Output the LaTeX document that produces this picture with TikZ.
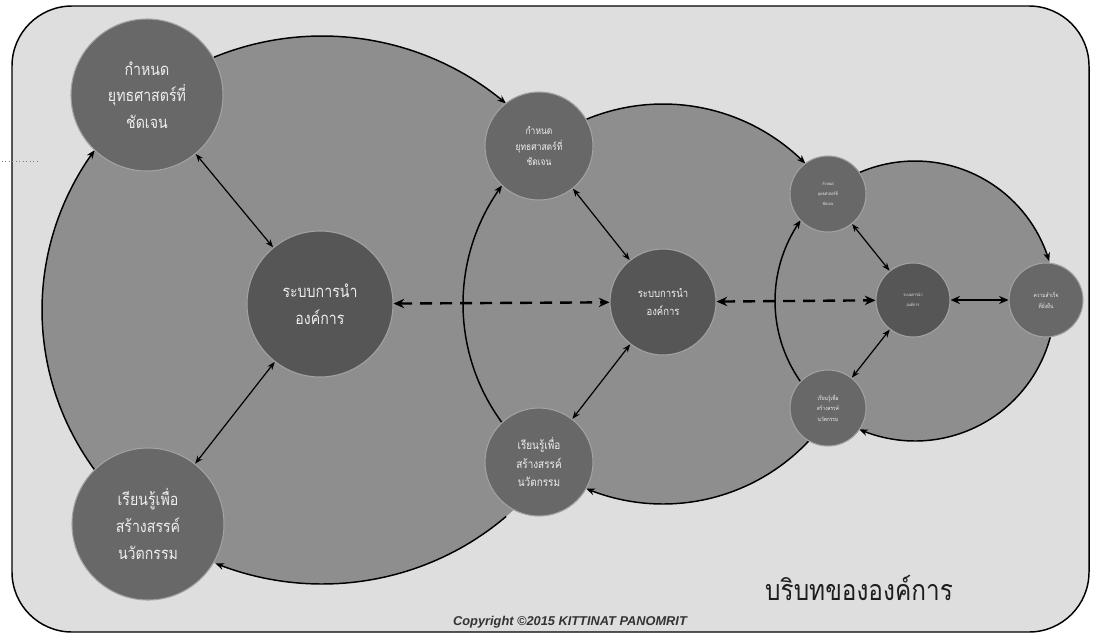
\documentclass[tikz,border=0pt]{standalone}
\usepackage{fontspec}
\setmainfont{Liberation Sans}
\newfontfamily\thai[Script=Thai, FakeStretch=0.85]{Loma}
\usetikzlibrary{arrows.meta}
\definecolor{paperC}{HTML}{DEDEDE}
\definecolor{blobC}{HTML}{8E8E8E}
\definecolor{discC}{HTML}{686868}
\definecolor{coreC}{HTML}{565656}
\definecolor{rimC}{HTML}{A2A2A2}
\definecolor{inkC}{HTML}{EEEEEE}
\definecolor{titleC}{HTML}{1E1E1E}

\begin{document}
\begin{tikzpicture}[x=0.75pt,y=-0.75pt,
  disc/.style={circle, fill=discC, draw=rimC, line width=0.8pt,
    minimum size=#1*1.5pt, inner sep=0pt, align=center, text=inkC},
  coredisc/.style={disc=#1, fill=coreC},
  bigtxt/.style={font=\thai\fontsize{12.5}{20}\selectfont},
  atxt/.style={font=\thai\fontsize{7.5}{11.6}\selectfont},
  btxt/.style={font=\thai\fontsize{8.8}{14}\selectfont},
  ctxt/.style={font=\thai\fontsize{8.4}{13.5}\selectfont},
  tinytxt/.style={font=\thai\fontsize{3.2}{7.5}\selectfont},
  smalltxt/.style={font=\thai\fontsize{4.3}{8.2}\selectfont},
  rimarc/.style={line width=1.1pt, -{Stealth[length=6.5pt,width=5pt]}},
  link/.style={line width=0.9pt, {Stealth[length=6pt,width=4.5pt]}-{Stealth[length=6pt,width=4.5pt]}},
  boldlink/.style={line width=1.8pt, {Stealth[length=7pt,width=6pt]}-{Stealth[length=7pt,width=6pt]}},
  dashlink/.style={line width=1.8pt, dash pattern=on 9pt off 6pt,
    {Stealth[length=8pt,width=7pt]}-{Stealth[length=8pt,width=7pt]}},
]
\useasboundingbox (0,0) rectangle (1094,636);
\fill[white] (0,0) rectangle (1094,636);

% frame
\draw[fill=paperC, line width=1.1pt, rounded corners=45pt] (12,6) rectangle (1089,632);
\draw[gray, dotted, line width=0.6pt] (2,161) -- (40,161);

% the three stage regions
\fill[blobC] (322,310) ellipse [x radius=280, y radius=274];
\fill[blobC] (663,304) circle [radius=200];
\fill[blobC] (915,301) circle [radius=140];

% cycle arcs along the region borders
\draw[rimarc] plot[domain=144:215.7, samples=50, variable=\t] ({322+280*cos(\t)},{310+274*sin(\t)});
\draw[rimarc] plot[domain=-112.7:-48.9, samples=50, variable=\t] ({322+280*cos(\t)},{310+274*sin(\t)});
\draw[rimarc] plot[domain=48.9:112.4, samples=50, variable=\t] ({322+280*cos(\t)},{310+274*sin(\t)});

\draw[rimarc] plot[domain=143.6:216.4, samples=50, variable=\t] ({663+200*cos(\t)},{304+200*sin(\t)});
\draw[rimarc] plot[domain=-112.6:-44.6, samples=50, variable=\t] ({663+200*cos(\t)},{304+200*sin(\t)});
\draw[rimarc] plot[domain=43.1:112.6, samples=50, variable=\t] ({663+200*cos(\t)},{304+200*sin(\t)});

\draw[rimarc] plot[domain=144.7:215.3, samples=50, variable=\t] ({915+140*cos(\t)},{301+140*sin(\t)});
\draw[rimarc] plot[domain=-113.5:-16.5, samples=50, variable=\t] ({915+140*cos(\t)},{301+140*sin(\t)});
\draw[rimarc] plot[domain=13.9:113.5, samples=50, variable=\t] ({915+140*cos(\t)},{301+140*sin(\t)});

% stage 1
\node[disc=76, bigtxt] (A1) at (147,95) {กำหนด\\ยุทธศาสตร์ที่\\ชัดเจน};
\node[disc=76, bigtxt] (B1) at (148,524) {เรียนรู้เพื่อ\\สร้างสรรค์\\นวัตกรรม};
\node[coredisc=73, bigtxt] (C1) at (320,304) {ระบบการนำ\\องค์การ};

% stage 2
\node[disc=54, atxt] (A2) at (539,146) {กำหนด\\ยุทธศาสตร์ที่\\ชัดเจน};
\node[disc=54, btxt] (B2) at (539,462) {เรียนรู้เพื่อ\\สร้างสรรค์\\นวัตกรรม};
\node[coredisc=53, ctxt] (C2) at (663,302) {ระบบการนำ\\องค์การ};

% stage 3
\node[disc=38, tinytxt] (A3) at (828,194) {กำหนด\\ยุทธศาสตร์ที่\\ชัดเจน};
\node[disc=38, smalltxt] (B3) at (828,408) {เรียนรู้เพื่อ\\สร้างสรรค์\\นวัตกรรม};
\node[coredisc=37, tinytxt] (C3) at (913,300) {ระบบการนำ\\องค์การ};
\node[disc=37, smalltxt] (D3) at (1046,300) {ความสำเร็จ\\ที่ยั่งยืน};

% links inside each stage
\draw[link] (A1) -- (C1);
\draw[link] (B1) -- (C1);
\draw[link] (A2) -- (C2);
\draw[link] (B2) -- (C2);
\draw[link] (A3) -- (C3);
\draw[link] (B3) -- (C3);
\draw[boldlink] (C3) -- (D3);

% links between stages
\draw[dashlink] (C1) -- (C2);
\draw[dashlink] (C2) -- (C3);

% captions
\node[font=\thai\fontsize{21.5}{24}\selectfont, text=titleC] (ctx) at (859,588) {บริบทขององค์การ};
\node[font=\bfseries\itshape\fontsize{9.6}{11}\selectfont, text=black!80] (copy) at (570,622) {Copyright ©2015 KITTINAT PANOMRIT};
\end{tikzpicture}
\end{document}
